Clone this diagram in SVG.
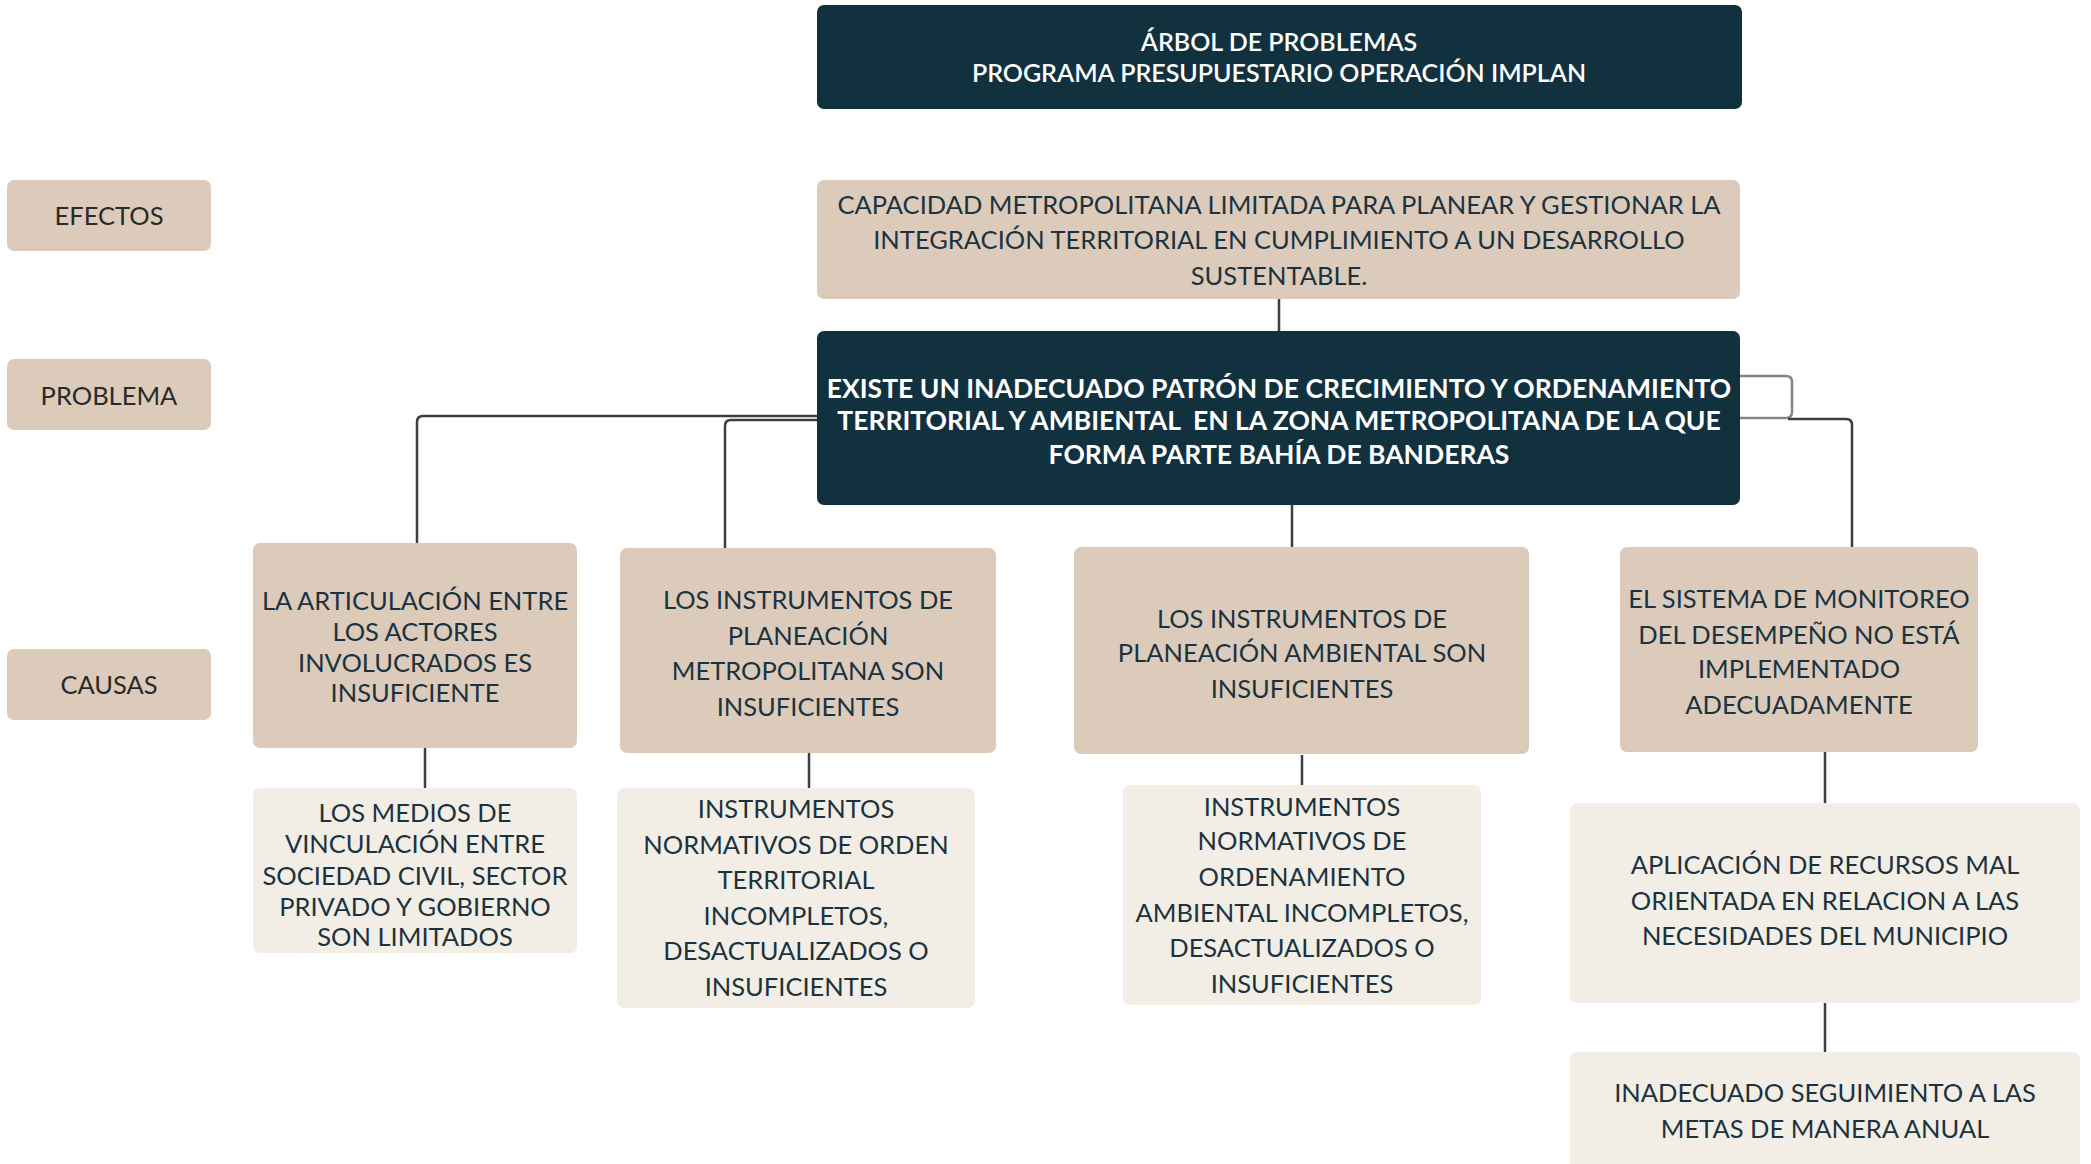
<svg xmlns="http://www.w3.org/2000/svg" width="2091" height="1164" viewBox="0 0 2091 1164">
<style>
text{font-family:Lato,"Open Sans","Liberation Sans",sans-serif;text-anchor:middle;}
.dark{fill:#12313f;}
.tan{fill:#dccbbb;}
.cream{fill:#f3eee5;}
.wt{fill:#ffffff;font-size:25px;}
.tt{fill:#1b3340;font-size:25.5px;}
.lbl{fill:#2a2a2a;font-size:25.5px;}
.title{font-weight:600;}
.bold{font-weight:bold;font-size:26.5px;}
.ln{fill:none;stroke:#3b3f43;stroke-width:2.5;}
.ln2{fill:none;stroke:#858585;stroke-width:2.5;}
</style>
<rect width="2091" height="1164" fill="#ffffff"/>
<g id="connectors">
<path class="ln" d="M1279,299 V331"/>
<path class="ln" d="M817,416 H423 Q417,416 417,422 V543"/>
<path class="ln" d="M817,420 H731 Q725,420 725,426 V548"/>
<path class="ln" d="M1292,505 V547"/>
<path class="ln2" d="M1740,376 H1786 Q1792,376 1792,382 V412 Q1792,418 1786,418 H1740"/>
<path class="ln" d="M1788,419 H1846 Q1852,419 1852,425 V547"/>
<path class="ln" d="M425,748 V788"/>
<path class="ln" d="M809,753 V788"/>
<path class="ln" d="M1302,755 V785"/>
<path class="ln" d="M1825,752 V803"/>
<path class="ln" d="M1825,1003 V1052"/>
</g>
<g id="title">
<rect class="dark" x="817" y="5" width="925" height="104" rx="7"/>
<text class="wt title" x="1279" y="51">ÁRBOL DE PROBLEMAS</text>
<text class="wt title" x="1279" y="82">PROGRAMA PRESUPUESTARIO OPERACIÓN IMPLAN</text>
</g>
<g id="label-efectos">
<rect class="tan" x="7" y="180" width="204" height="71" rx="7"/>
<text class="lbl" x="109" y="225">EFECTOS</text>
</g>
<g id="label-problema">
<rect class="tan" x="7" y="359" width="204" height="71" rx="7"/>
<text class="lbl" x="109" y="405">PROBLEMA</text>
</g>
<g id="label-causas">
<rect class="tan" x="7" y="649" width="204" height="71" rx="7"/>
<text class="lbl" x="109" y="694">CAUSAS</text>
</g>
<g id="efecto">
<rect class="tan" x="817" y="180" width="923" height="119" rx="7"/>
<text class="tt" x="1279" y="214">CAPACIDAD METROPOLITANA LIMITADA PARA PLANEAR Y GESTIONAR LA</text>
<text class="tt" x="1279" y="249">INTEGRACIÓN TERRITORIAL EN CUMPLIMIENTO A UN DESARROLLO</text>
<text class="tt" x="1279" y="285">SUSTENTABLE.</text>
</g>
<g id="problema">
<rect class="dark" x="817" y="331" width="923" height="174" rx="7"/>
<text class="wt bold" x="1279" y="398">EXISTE UN INADECUADO PATRÓN DE CRECIMIENTO Y ORDENAMIENTO</text>
<text class="wt bold" x="1279" y="430" xml:space="preserve">TERRITORIAL Y AMBIENTAL  EN LA ZONA METROPOLITANA DE LA QUE</text>
<text class="wt bold" x="1279" y="464">FORMA PARTE BAHÍA DE BANDERAS</text>
</g>
<g id="causa1">
<rect class="tan" x="253" y="543" width="324" height="205" rx="7"/>
<text class="tt" x="415" y="610">LA ARTICULACIÓN ENTRE</text>
<text class="tt" x="415" y="641">LOS ACTORES</text>
<text class="tt" x="415" y="672">INVOLUCRADOS ES</text>
<text class="tt" x="415" y="702">INSUFICIENTE</text>
</g>
<g id="causa2">
<rect class="tan" x="620" y="548" width="376" height="205" rx="7"/>
<text class="tt" x="808" y="609">LOS INSTRUMENTOS DE</text>
<text class="tt" x="808" y="645">PLANEACIÓN</text>
<text class="tt" x="808" y="680">METROPOLITANA SON</text>
<text class="tt" x="808" y="716">INSUFICIENTES</text>
</g>
<g id="causa3">
<rect class="tan" x="1074" y="547" width="455" height="207" rx="7"/>
<text class="tt" x="1302" y="628">LOS INSTRUMENTOS DE</text>
<text class="tt" x="1302" y="662">PLANEACIÓN AMBIENTAL SON</text>
<text class="tt" x="1302" y="698">INSUFICIENTES</text>
</g>
<g id="causa4">
<rect class="tan" x="1620" y="547" width="358" height="205" rx="7"/>
<text class="tt" x="1799" y="608">EL SISTEMA DE MONITOREO</text>
<text class="tt" x="1799" y="644">DEL DESEMPEÑO NO ESTÁ</text>
<text class="tt" x="1799" y="678">IMPLEMENTADO</text>
<text class="tt" x="1799" y="714">ADECUADAMENTE</text>
</g>
<g id="sub1">
<rect class="cream" x="253" y="788" width="324" height="165" rx="7"/>
<text class="tt" x="415" y="822">LOS MEDIOS DE</text>
<text class="tt" x="415" y="853">VINCULACIÓN ENTRE</text>
<text class="tt" x="415" y="885">SOCIEDAD CIVIL, SECTOR</text>
<text class="tt" x="415" y="916">PRIVADO Y GOBIERNO</text>
<text class="tt" x="415" y="946">SON LIMITADOS</text>
</g>
<g id="sub2">
<rect class="cream" x="617" y="788" width="358" height="220" rx="7"/>
<text class="tt" x="796" y="818">INSTRUMENTOS</text>
<text class="tt" x="796" y="854">NORMATIVOS DE ORDEN</text>
<text class="tt" x="796" y="889">TERRITORIAL</text>
<text class="tt" x="796" y="925">INCOMPLETOS,</text>
<text class="tt" x="796" y="960">DESACTUALIZADOS O</text>
<text class="tt" x="796" y="996">INSUFICIENTES</text>
</g>
<g id="sub3">
<rect class="cream" x="1123" y="785" width="358" height="220" rx="7"/>
<text class="tt" x="1302" y="816">INSTRUMENTOS</text>
<text class="tt" x="1302" y="850">NORMATIVOS DE</text>
<text class="tt" x="1302" y="886">ORDENAMIENTO</text>
<text class="tt" x="1302" y="922">AMBIENTAL INCOMPLETOS,</text>
<text class="tt" x="1302" y="957">DESACTUALIZADOS O</text>
<text class="tt" x="1302" y="993">INSUFICIENTES</text>
</g>
<g id="sub4a">
<rect class="cream" x="1570" y="803" width="510" height="200" rx="7"/>
<text class="tt" x="1825" y="874">APLICACIÓN DE RECURSOS MAL</text>
<text class="tt" x="1825" y="910">ORIENTADA EN RELACION A LAS</text>
<text class="tt" x="1825" y="945">NECESIDADES DEL MUNICIPIO</text>
</g>
<g id="sub4b">
<rect class="cream" x="1570" y="1052" width="510" height="130" rx="7"/>
<text class="tt" x="1825" y="1102">INADECUADO SEGUIMIENTO A LAS</text>
<text class="tt" x="1825" y="1138">METAS DE MANERA ANUAL</text>
</g>
</svg>
